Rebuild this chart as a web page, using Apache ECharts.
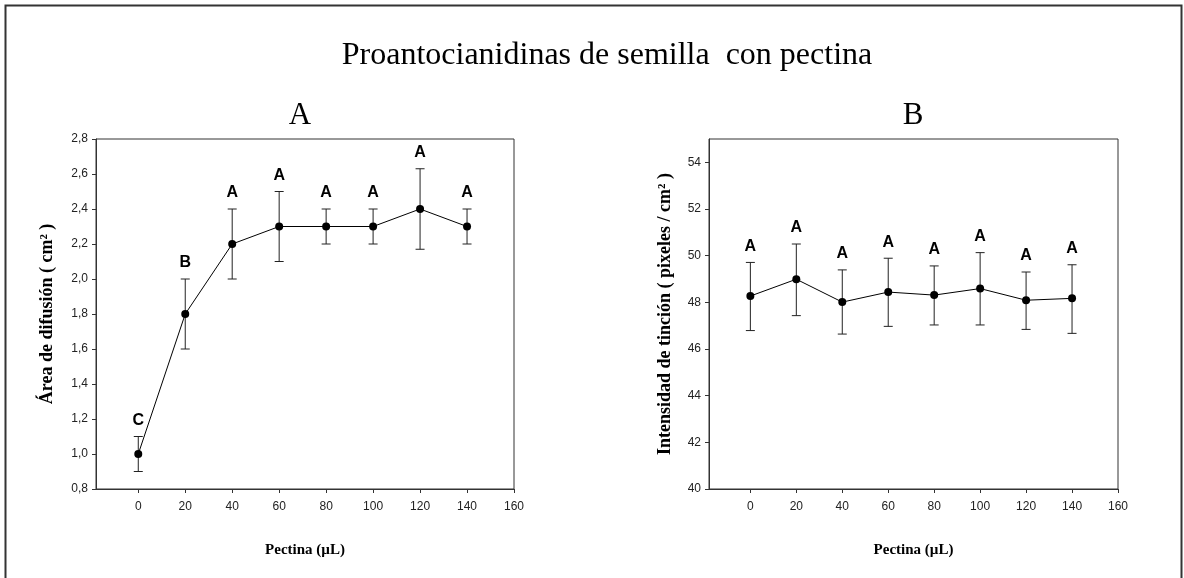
<!DOCTYPE html>
<html>
<head>
<meta charset="utf-8">
<script src="https://cdn.jsdelivr.net/npm/echarts@6/dist/echarts.min.js"></script>
<style>
html,body{margin:0;padding:0;background:#fff;}
#chart{width:1184px;height:578px;}
</style>
</head>
<body>
<div id="chart"></div>
<script>
// ---- data ----
const pectina = [0, 20, 40, 60, 80, 100, 120, 140];
const xTicks = [0, 20, 40, 60, 80, 100, 120, 140, 160];

// Panel A: area de difusion
const areaMean = [1.0, 1.8, 2.2, 2.3, 2.3, 2.3, 2.4, 2.3];
const areaLow  = [0.9, 1.6, 2.0, 2.1, 2.2, 2.2, 2.17, 2.2];
const areaHigh = [1.1, 2.0, 2.4, 2.5, 2.4, 2.4, 2.63, 2.4];
const areaLetters = ['C', 'B', 'A', 'A', 'A', 'A', 'A', 'A'];
const yTicksA = [0.8, 1.0, 1.2, 1.4, 1.6, 1.8, 2.0, 2.2, 2.4, 2.6, 2.8];

// Panel B: intensidad de tincion
const intMean = [48.27, 48.99, 48.01, 48.44, 48.31, 48.59, 48.09, 48.17];
const intLow  = [46.79, 47.43, 46.64, 46.97, 47.03, 47.03, 46.84, 46.67];
const intHigh = [49.71, 50.50, 49.39, 49.89, 49.56, 50.13, 49.30, 49.61];
const intLetters = ['A', 'A', 'A', 'A', 'A', 'A', 'A', 'A'];
const yTicksB = [40, 42, 44, 46, 48, 50, 52, 54];

const mainTitle = 'Proantocianidinas de semilla  con pectina';
const panelA = 'A';
const panelB = 'B';
const xName = 'Pectina (µL)';
const yNameA = 'Área de difusión ( cm² )';
const yNameB = 'Intensidad de tinción ( pixeles / cm² )';

// ---- chart ----
const chart = echarts.init(document.getElementById('chart'), null, {renderer: 'canvas'});

const axisColor = '#333';
const labelStyle = {color: '#222', fontFamily: 'Liberation Sans, Arial, sans-serif', fontSize: 12};

function xAxis(gi) {
  return {
    type: 'value', gridIndex: gi, min: -18, max: 160,
    name: xName, nameLocation: 'middle', nameGap: 54,
    nameTextStyle: {fontFamily: 'Liberation Serif, Times New Roman, serif', fontWeight: 'bold', fontSize: 15, color: '#000'},
    axisLine: {show: true, onZero: false, lineStyle: {color: axisColor, width: 1}},
    axisTick: {show: true, length: 4, inside: false, customValues: xTicks, lineStyle: {color: axisColor}},
    axisLabel: Object.assign({margin: 12, customValues: xTicks}, labelStyle),
    splitLine: {show: false}
  };
}
function yAxis(gi, min, max, ticks, name, gap, fmt) {
  return {
    type: 'value', gridIndex: gi, min: min, max: max,
    name: name, nameLocation: 'middle', nameGap: gap, nameRotate: 90,
    nameTextStyle: {fontFamily: 'Liberation Serif, Times New Roman, serif', fontWeight: 'bold', fontSize: 18, color: '#000'},
    axisLine: {show: true, onZero: false, lineStyle: {color: axisColor, width: 1}},
    axisTick: {show: true, length: 4, inside: false, customValues: ticks, lineStyle: {color: axisColor}},
    axisLabel: Object.assign({margin: 8, customValues: ticks, formatter: fmt}, labelStyle),
    splitLine: {show: false}
  };
}

function errSeries(gi, lows, highs, letters) {
  return {
    type: 'custom', xAxisIndex: gi, yAxisIndex: gi, z: 2,
    data: pectina.map((x, i) => [x, lows[i], highs[i]]),
    renderItem: function (params, api) {
      const x = api.value(0);
      const top = api.coord([x, api.value(2)]);
      const bot = api.coord([x, api.value(1)]);
      const hw = 4.5;
      const st = {stroke: '#222', lineWidth: 1};
      return {
        type: 'group',
        children: [
          {type: 'line', shape: {x1: top[0], y1: top[1], x2: bot[0], y2: bot[1]}, style: st},
          {type: 'line', shape: {x1: top[0] - hw, y1: top[1], x2: top[0] + hw, y2: top[1]}, style: st},
          {type: 'line', shape: {x1: bot[0] - hw, y1: bot[1], x2: bot[0] + hw, y2: bot[1]}, style: st},
          {type: 'text', x: top[0], y: top[1] - 16,
           style: {text: letters[params.dataIndex], font: 'bold 16px "Liberation Sans", Arial, sans-serif',
                   fill: '#000', align: 'center', verticalAlign: 'middle'}}
        ]
      };
    }
  };
}
function lineSeries(gi, means) {
  return {
    type: 'line', xAxisIndex: gi, yAxisIndex: gi, z: 3,
    data: pectina.map((x, i) => [x, means[i]]),
    symbol: 'circle', symbolSize: 8,
    itemStyle: {color: '#000'},
    lineStyle: {color: '#000', width: 1},
    animation: false
  };
}

const option = {
  animation: false,
  backgroundColor: '#fff',
  title: [
    {text: mainTitle, left: 602, top: 35, textAlign: 'center',
     textStyle: {fontFamily: 'Liberation Serif, Times New Roman, serif', fontWeight: 'normal', fontSize: 32, color: '#000'}},
    {text: panelA, left: 295, top: 95, textAlign: 'center',
     textStyle: {fontFamily: 'Liberation Serif, Times New Roman, serif', fontWeight: 'normal', fontSize: 31, color: '#000'}},
    {text: panelB, left: 908, top: 95, textAlign: 'center',
     textStyle: {fontFamily: 'Liberation Serif, Times New Roman, serif', fontWeight: 'normal', fontSize: 31, color: '#000'}}
  ],
  graphic: [
    {type: 'rect', left: 3, top: 3, shape: {x: 0, y: 0, width: 1176, height: 620},
     style: {fill: 'none', stroke: '#333', lineWidth: 2}, silent: true}
  ],
  grid: [
    {left: 96, top: 139, width: 418, height: 350, show: true, borderColor: axisColor, borderWidth: 1, backgroundColor: 'transparent'},
    {left: 709, top: 139, width: 409, height: 350, show: true, borderColor: axisColor, borderWidth: 1, backgroundColor: 'transparent'}
  ],
  xAxis: [xAxis(0), xAxis(1)],
  yAxis: [
    yAxis(0, 0.8, 2.8, yTicksA, yNameA, 40, v => v.toFixed(1).replace('.', ',')),
    yAxis(1, 40, 55, yTicksB, yNameB, 35, v => String(Math.round(v)))
  ],
  series: [
    errSeries(0, areaLow, areaHigh, areaLetters),
    lineSeries(0, areaMean),
    errSeries(1, intLow, intHigh, intLetters),
    lineSeries(1, intMean)
  ]
};
chart.setOption(option);
</script>
</body>
</html>
